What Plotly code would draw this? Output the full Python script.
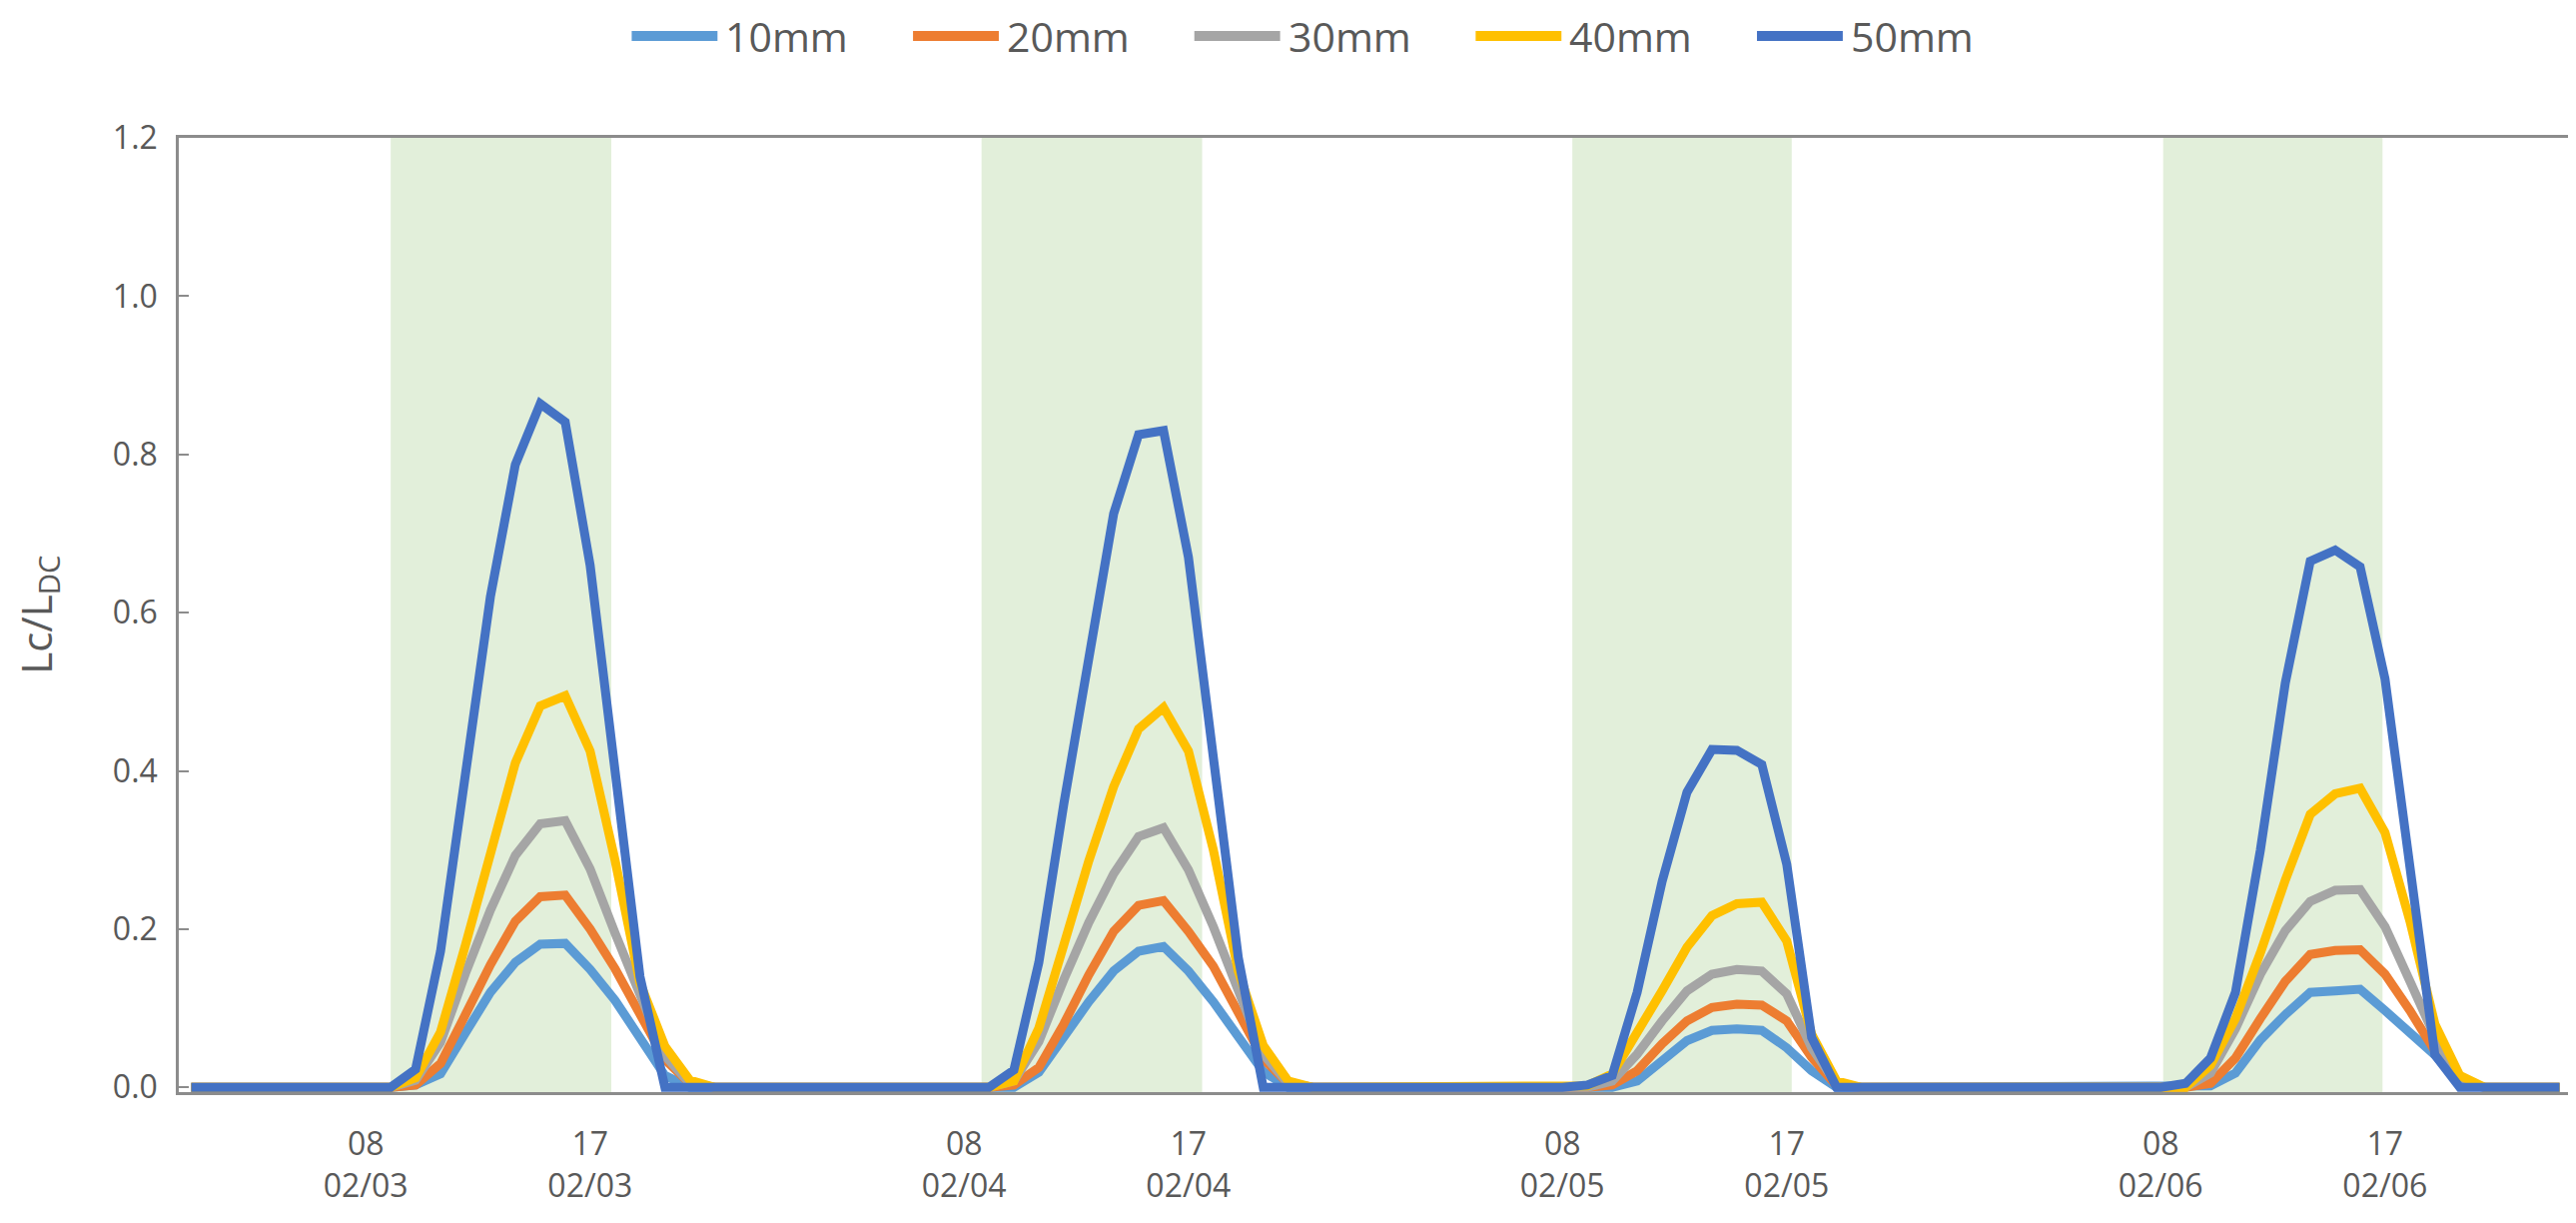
import plotly.graph_objects as go

# one reading per hour, hours counted from 02/03 00:00 (first reading 01:00)
HOURS = list(range(1, 97))
DAYS = ["02/03", "02/04", "02/05", "02/06"]
TICK_HOURS = [8, 17]

# daytime shading (hours from 02/03 00:00)
SHADE_START = [9.0, 32.7, 56.4, 80.1]
SHADE_END = [17.85, 41.55, 65.2, 88.9]

SERIES_NAMES = ["10mm", "20mm", "30mm", "40mm", "50mm"]
COLORS = ["#5B9BD5", "#ED7D31", "#A5A5A5", "#FFC000", "#4472C4"]

LC_10MM = [
    0, 0, 0, 0, 0, 0, 0, 0, 0, 0.003, 0.017, 0.069, 0.120, 0.158, 0.181, 0.182, 0.149, 0.110, 0.060, 0.015, 0, 0, 0, 0,
    0, 0, 0, 0, 0, 0, 0, 0, 0, 0.000, 0.019, 0.064, 0.108, 0.147, 0.172, 0.178, 0.147, 0.108, 0.066, 0.020, 0, 0, 0, 0,
    0, 0, 0, 0, 0, 0, 0, 0, 0, 0.000, 0.008, 0.034, 0.059, 0.072, 0.074, 0.072, 0.050, 0.021, 0.000, 0, 0, 0, 0, 0,
    0, 0, 0, 0, 0, 0, 0, 0, 0, 0.002, 0.018, 0.060, 0.092, 0.120, 0.122, 0.124, 0.097, 0.069, 0.041, 0.005, 0, 0, 0, 0,
]
LC_20MM = [
    0, 0, 0, 0, 0, 0, 0, 0, 0, 0.003, 0.030, 0.092, 0.155, 0.210, 0.241, 0.243, 0.200, 0.150, 0.090, 0.035, 0.005, 0, 0, 0,
    0, 0, 0, 0, 0, 0, 0, 0, 0, 0.003, 0.025, 0.080, 0.142, 0.197, 0.230, 0.236, 0.197, 0.153, 0.097, 0.036, 0.005, 0, 0, 0,
    0, 0, 0, 0, 0, 0, 0, 0, 0, 0.003, 0.021, 0.055, 0.084, 0.101, 0.105, 0.104, 0.084, 0.038, 0.002, 0, 0, 0, 0, 0,
    0, 0, 0, 0, 0, 0, 0, 0, 0, 0.005, 0.037, 0.087, 0.134, 0.168, 0.173, 0.174, 0.143, 0.097, 0.046, 0.007, 0, 0, 0, 0,
]
LC_30MM = [
    0, 0, 0, 0, 0, 0, 0, 0, 0, 0.009, 0.057, 0.144, 0.224, 0.293, 0.333, 0.337, 0.276, 0.195, 0.115, 0.040, 0.005, 0, 0, 0,
    0, 0, 0, 0, 0, 0, 0, 0, 0, 0.008, 0.058, 0.136, 0.208, 0.270, 0.317, 0.328, 0.275, 0.203, 0.125, 0.042, 0.005, 0, 0, 0,
    0, 0, 0, 0, 0, 0, 0, 0, 0, 0.008, 0.042, 0.084, 0.122, 0.143, 0.149, 0.147, 0.118, 0.050, 0.004, 0, 0, 0, 0, 0,
    0, 0, 0, 0, 0, 0, 0, 0, 0, 0.018, 0.074, 0.143, 0.198, 0.235, 0.249, 0.250, 0.203, 0.134, 0.064, 0.009, 0, 0, 0, 0,
]
LC_40MM = [
    0, 0, 0, 0, 0, 0, 0, 0, 0, 0.012, 0.070, 0.180, 0.300, 0.410, 0.482, 0.495, 0.425, 0.287, 0.132, 0.052, 0.009, 0, 0, 0,
    0, 0, 0, 0, 0, 0, 0, 0, 0, 0.008, 0.075, 0.180, 0.286, 0.380, 0.453, 0.480, 0.425, 0.300, 0.147, 0.053, 0.008, 0, 0, 0,
    0, 0, 0, 0, 0, 0, 0, 0, 0.002, 0.017, 0.067, 0.122, 0.177, 0.217, 0.232, 0.234, 0.185, 0.067, 0.008, 0, 0, 0, 0, 0,
    0, 0, 0, 0, 0, 0, 0, 0, 0, 0.028, 0.087, 0.170, 0.262, 0.345, 0.371, 0.378, 0.322, 0.210, 0.080, 0.015, 0, 0, 0, 0,
]
LC_50MM = [
    0, 0, 0, 0, 0, 0, 0, 0, 0, 0.023, 0.172, 0.396, 0.620, 0.787, 0.864, 0.841, 0.660, 0.400, 0.140, 0, 0, 0, 0, 0,
    0, 0, 0, 0, 0, 0, 0, 0, 0, 0.022, 0.158, 0.358, 0.547, 0.725, 0.825, 0.830, 0.670, 0.414, 0.164, 0, 0, 0, 0, 0,
    0, 0, 0, 0, 0, 0, 0, 0, 0.003, 0.015, 0.120, 0.260, 0.373, 0.427, 0.426, 0.408, 0.282, 0.063, 0, 0, 0, 0, 0, 0,
    0, 0, 0, 0, 0, 0, 0, 0, 0.005, 0.037, 0.120, 0.300, 0.511, 0.665, 0.679, 0.658, 0.516, 0.278, 0.041, 0, 0, 0, 0, 0,
]
SERIES = [LC_10MM, LC_20MM, LC_30MM, LC_40MM, LC_50MM]

FAMILY = "Open Sans, sans-serif"
TEXT_COLOR = "#595959"
TICK_FONT = dict(family=FAMILY, size=32, color=TEXT_COLOR)
LEGEND_FONT = dict(family=FAMILY, size=41, color=TEXT_COLOR)
TITLE_FONT = dict(family=FAMILY, size=42, color=TEXT_COLOR)
AXIS_COLOR = "#8C8C8C"

# plot area in pixels
W, H = 2579, 1224
L, R, T, B = 171, 9, 130, 139


def px_x(px):
    return (px - L) / (W - L - R)


def px_y(py):
    return (H - B - py) / (H - T - B)


fig = go.Figure()

for name, color, vals in zip(SERIES_NAMES, COLORS, SERIES):
    fig.add_trace(go.Scatter(
        x=HOURS, y=vals, mode="lines", name=name,
        line=dict(color=color, width=9),
        showlegend=False,
    ))

for x0, x1 in zip(SHADE_START, SHADE_END):
    fig.add_vrect(x0=x0, x1=x1, fillcolor="#E2EFDA", line_width=0, layer="below")

tickvals, ticktext = [], []
for d, day in enumerate(DAYS):
    for h in TICK_HOURS:
        tickvals.append(d * 24 + h)
        ticktext.append(f"{h:02d}<br>{day}")

# legend drawn by hand so the line samples are as long as in the original
for i, (name, color) in enumerate(zip(SERIES_NAMES, COLORS)):
    x0 = 625 + i * 282
    fig.add_shape(type="line", xref="paper", yref="paper",
                  x0=px_x(x0), x1=px_x(x0 + 86), y0=px_y(28), y1=px_y(28),
                  line=dict(color=color, width=10))
    fig.add_annotation(xref="paper", yref="paper", x=px_x(x0 + 92), y=px_y(28),
                       text=name, showarrow=False, xanchor="left", yanchor="middle",
                       font=LEGEND_FONT)

fig.add_annotation(xref="paper", yref="paper", x=px_x(30), y=0.5,
                   text="Lc/L<sub>DC</sub>", textangle=-90, showarrow=False,
                   xanchor="center", yanchor="middle", font=TITLE_FONT)

fig.update_layout(
    width=W, height=H,
    margin=dict(l=L, r=R, t=T, b=B),
    paper_bgcolor="white", plot_bgcolor="white",
    font=TICK_FONT,
    xaxis=dict(
        range=[0.5, 96.5], tickvals=tickvals, ticktext=ticktext,
        showgrid=False, zeroline=False, showline=True, mirror=True,
        linecolor=AXIS_COLOR, linewidth=2.5, ticks="", layer="below traces",
        ticklabelstandoff=22, tickfont=TICK_FONT,
    ),
    yaxis=dict(
        range=[-0.006, 1.2], dtick=0.2, tickformat=".1f",
        showgrid=False, zeroline=False, showline=True, mirror=True,
        linecolor=AXIS_COLOR, linewidth=2.5, ticks="inside", ticklen=10,
        tickcolor=AXIS_COLOR, tickwidth=2, layer="below traces",
        ticklabelstandoff=12, tickfont=TICK_FONT,
    ),
)

fig.write_html("out.html")
